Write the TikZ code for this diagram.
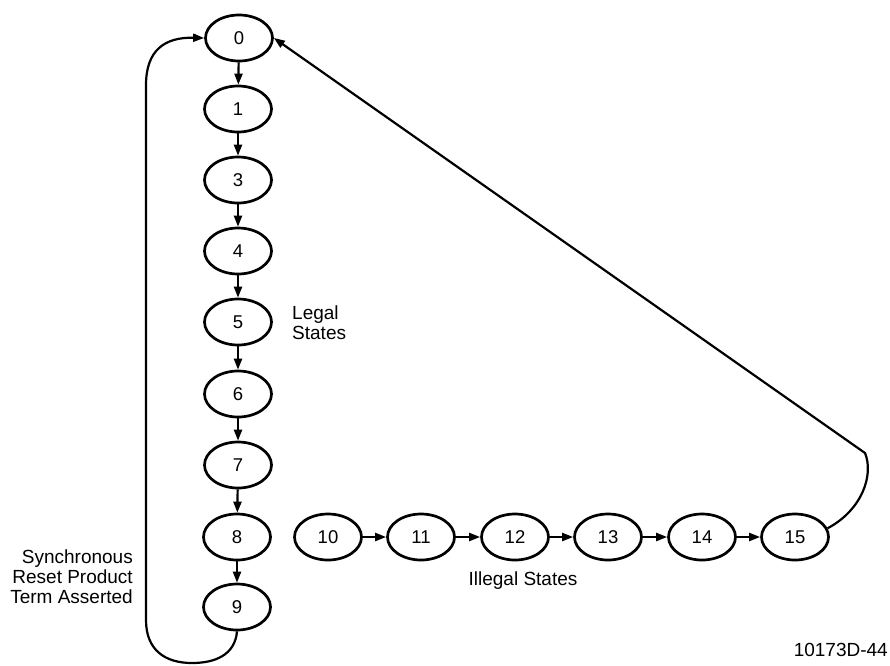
\documentclass[tikz,border=0pt]{standalone}
\usepackage{fontspec}
\setmainfont{Liberation Sans}
\usetikzlibrary{shapes.geometric,arrows.meta}
\begin{document}
\begin{tikzpicture}[x=1pt,y=-1pt,
  state/.style={draw,ellipse,line width=2.7pt,minimum width=67pt,minimum height=46pt,inner sep=0pt,font=\fontsize{18.5}{20}\selectfont},
  conn/.style={line width=2.2pt,-{Triangle[length=11pt,width=8pt]}},
  lbl/.style={font=\fontsize{19}{20}\selectfont,inner sep=0pt}]
\useasboundingbox (0,0) rectangle (890,665);
\node[state] (n0) at (239,38) {0};
\node[state] (n1) at (238,109) {1};
\node[state] (n3) at (238,180) {3};
\node[state] (n4) at (238,251) {4};
\node[state] (n5) at (238,322) {5};
\node[state] (n6) at (238,394) {6};
\node[state] (n7) at (238,465) {7};
\node[state] (n8) at (237,537) {8};
\node[state] (n9) at (237,607) {9};
\node[state] (n10) at (328,537) {10};
\node[state] (n11) at (421,537) {11};
\node[state] (n12) at (515,537) {12};
\node[state] (n13) at (608,537) {13};
\node[state] (n14) at (702,537) {14};
\node[state] (n15) at (795,537) {15};
\coordinate (c1) at (865,453);
\draw[conn] (n0) -- (n1);
\draw[conn] (n1) -- (n3);
\draw[conn] (n3) -- (n4);
\draw[conn] (n4) -- (n5);
\draw[conn] (n5) -- (n6);
\draw[conn] (n6) -- (n7);
\draw[conn] (n7) -- (n8);
\draw[conn] (n8) -- (n9);
\draw[conn] (n10) -- (n11);
\draw[conn] (n11) -- (n12);
\draw[conn] (n12) -- (n13);
\draw[conn] (n13) -- (n14);
\draw[conn] (n14) -- (n15);
\draw[conn] (n15.15) .. controls (862,510) and (874,475) .. (c1) -- (n0.east);
\draw[conn] (n9.south) .. controls (235,655) and (215,663) .. (192,663) .. controls (165,663) and (146,650) .. (146,620) -- (146,85) .. controls (146,50) and (165,37) .. (n0.west);
\node[lbl,anchor=west,align=left] (legal) at (292,323) {Legal\\States};
\node[lbl,anchor=east,align=right] (sync) at (133,577) {Synchronous\\Reset Product\\Term Asserted};
\node[lbl] (illegal) at (523,581) {Illegal States};
\node[lbl,anchor=east] (code) at (888,650) {10173D-44};
\end{tikzpicture}
\end{document}
